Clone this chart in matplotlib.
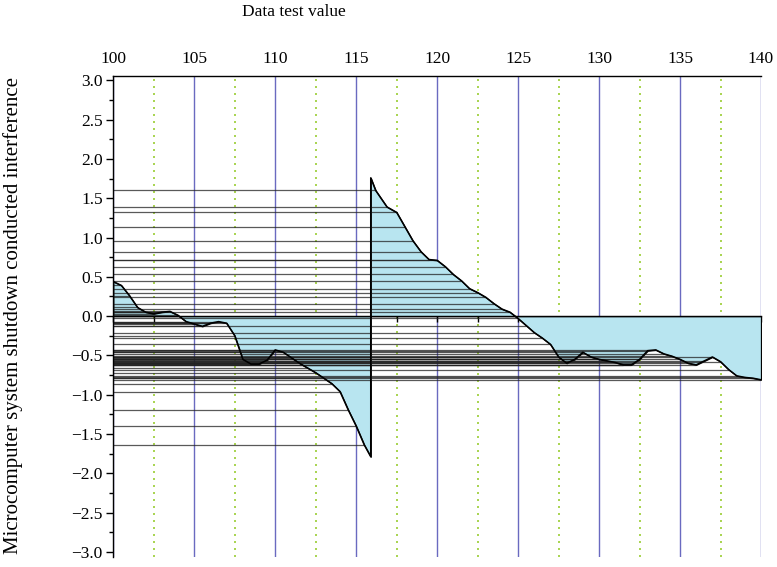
import matplotlib
matplotlib.use("Agg")
import matplotlib.pyplot as plt
from matplotlib.ticker import MultipleLocator
import numpy as np

plt.rcParams['font.family'] = ['Liberation Serif', 'DejaVu Serif']

x_vals = [100.0, 100.5, 101.0, 101.5, 102.0, 102.5, 103.0, 103.5, 104.0, 104.5,
          105.0, 105.5, 106.0, 106.5, 107.0, 107.5, 108.0, 108.5, 109.0, 109.5,
          110.0, 110.5, 111.0, 111.5, 112.0, 112.5, 113.0, 113.5, 114.0, 114.5,
          115.0, 115.5, 115.9, 115.9, 116.2, 116.9, 117.5, 118.0, 118.5, 119.0,
          119.5, 120.0, 120.5, 121.0, 121.5, 122.0, 122.5, 123.0, 123.5, 124.0,
          124.5, 125.0, 125.5, 126.0, 126.5, 127.0, 127.5, 128.0, 128.5, 129.0,
          129.5, 130.0, 130.5, 131.0, 131.5, 132.0, 132.5, 133.0, 133.5, 134.0,
          134.5, 135.0, 135.5, 136.0, 136.5, 137.0, 137.5, 138.0, 138.5, 139.0,
          139.5, 140.0]
y_vals = [0.44, 0.39, 0.26, 0.11, 0.05, 0.03, 0.05, 0.06, 0.01, -0.07,
          -0.10, -0.13, -0.09, -0.07, -0.09, -0.25, -0.55, -0.61, -0.61, -0.56,
          -0.43, -0.46, -0.53, -0.60, -0.66, -0.72, -0.79, -0.86, -0.96, -1.19,
          -1.40, -1.64, -1.79, 1.76, 1.60, 1.39, 1.32, 1.14, 0.96, 0.82,
          0.72, 0.71, 0.63, 0.53, 0.45, 0.35, 0.30, 0.24, 0.16, 0.09,
          0.05, -0.03, -0.12, -0.21, -0.28, -0.36, -0.52, -0.60, -0.55, -0.46,
          -0.52, -0.55, -0.57, -0.59, -0.62, -0.62, -0.55, -0.44, -0.43, -0.48,
          -0.51, -0.55, -0.60, -0.62, -0.57, -0.52, -0.58, -0.68, -0.76, -0.78,
          -0.79, -0.81]

x = np.array(x_vals)
y = np.array(y_vals)

# no drop line for the two points forming the vertical jump
dx_prev = np.diff(x, prepend=np.nan)
dx_next = np.diff(x, append=np.nan)
has_drop = (dx_prev != 0) & (dx_next != 0)

fig = plt.figure(figsize=(7.77, 5.67), dpi=100)
ax = fig.add_axes([0.1458, 0.0185, 0.8336, 0.848])

ax.fill_between(x, y, 0, facecolor='#b8e5f0', edgecolor='black', lw=0.9, zorder=1)
ax.hlines(y[has_drop], x[0], x[has_drop], colors='#222222', lw=0.9, alpha=0.75, zorder=2)
ax.plot(x, y, color='black', lw=1.1, zorder=3)

ax.set_xlim(100, 140)
ax.set_ylim(-3.06, 3.06)

ax.spines['right'].set_visible(False)
ax.spines['bottom'].set_position(('data', 0))
for s in ['left', 'top', 'bottom']:
    ax.spines[s].set_linewidth(1.0)

ax.xaxis.set_major_locator(MultipleLocator(5))
ax.xaxis.set_minor_locator(MultipleLocator(2.5))
ax.yaxis.set_major_locator(MultipleLocator(0.5))
ax.yaxis.set_minor_locator(MultipleLocator(0.25))

ax.tick_params(axis='x', which='both', top=False, bottom=True, labeltop=True,
               labelbottom=False, direction='out', length=4.5, width=1.0, pad=2,
               labelsize=12.5)
ax.tick_params(axis='y', which='major', direction='out', length=5, width=1.0,
               pad=2.7, labelsize=12.5)
ax.tick_params(axis='y', which='minor', direction='out', length=3, width=1.0)

ax.set_axisbelow(True)
ax.grid(which='major', axis='x', color='#6a6ac0', lw=1.0)
ax.grid(which='minor', axis='x', color='#9acd32', lw=1.2, linestyle=(0, (1.2, 3)))
ax.xaxis.get_gridlines()[-1].set_visible(False)

fig.text(294 / 777, 1 - 12.5 / 567, 'Data test value', ha='center', va='center',
         fontsize=12.5)
fig.text(13 / 777, 1 - 316 / 567,
         'Microcomputer system shutdown conducted interference',
         rotation=90, ha='center', va='center', fontsize=15)

fig.savefig('out.png', dpi=100)
